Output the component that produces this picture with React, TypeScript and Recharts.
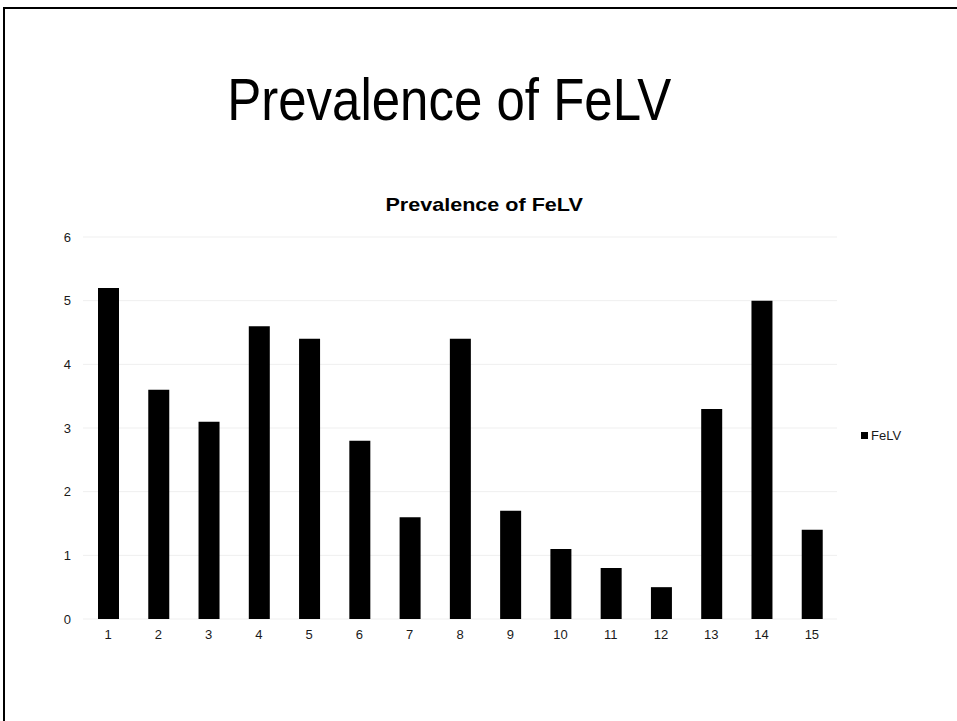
import React from 'react';
import { BarChart, Bar, XAxis, YAxis, CartesianGrid } from 'recharts';

const categories = ['1', '2', '3', '4', '5', '6', '7', '8', '9', '10', '11', '12', '13', '14', '15'];
const felvValues = [5.2, 3.6, 3.1, 4.6, 4.4, 2.8, 1.6, 4.4, 1.7, 1.1, 0.8, 0.5, 3.3, 5.0, 1.4];
const yTicks = [0, 1, 2, 3, 4, 5, 6];
const boundaryTicks = [0, 1, 2, 3, 4, 5, 6, 7, 8, 9, 10, 11, 12, 13, 14, 15];

const chartData = categories.map((name, i) => ({ name, FeLV: felvValues[i] }));

const font = '"Liberation Sans", Arial, sans-serif';

export default function App() {
  return (
    <div style={{ position: 'absolute', left: 0, top: 0, width: 957, height: 721, background: '#fff', overflow: 'hidden', fontFamily: font }}>
      {/* slide frame */}
      <div style={{ position: 'absolute', left: 3, top: 7, width: 954, height: 714, borderTop: '2.5px solid #000', borderLeft: '2px solid #000' }} />

      <div style={{ position: 'absolute', left: 0, width: 899, top: 66, textAlign: 'center', lineHeight: '68px', color: '#000' }}>
        <span style={{ display: 'inline-block', fontSize: 60, transform: 'scaleX(0.85)' }}>Prevalence of FeLV</span>
      </div>

      <div style={{ position: 'absolute', left: 0, width: 968, top: 194, textAlign: 'center', lineHeight: '22px', color: '#000' }}>
        <span style={{ display: 'inline-block', fontSize: 18.6, fontWeight: 'bold', transform: 'scaleX(1.16)' }}>Prevalence of FeLV</span>
      </div>

      <div style={{ position: 'absolute', left: 0, top: 0 }}>
        <BarChart
          width={957}
          height={721}
          data={chartData}
          margin={{ top: 237, right: 120, bottom: 72, left: 43 }}
        >
          <CartesianGrid vertical={false} stroke="#efefef" />
          <XAxis
            xAxisId="edges"
            type="number"
            domain={[0, 15]}
            ticks={boundaryTicks}
            height={0}
            axisLine={{ stroke: '#e4e4e4' }}
            tickLine={{ stroke: '#e4e4e4' }}
            tickSize={5}
            tick={() => <g />}
            allowDataOverflow
          />
          <XAxis
            dataKey="name"
            height={30}
            axisLine={false}
            tickLine={false}
            tick={{ fill: '#1a1a1a', fontSize: 13, fontFamily: font }}
            tickMargin={5}
            interval={0}
          />
          <YAxis
            domain={[0, 6]}
            ticks={yTicks}
            width={40}
            axisLine={false}
            tickLine={false}
            tick={{ fill: '#1a1a1a', fontSize: 13, fontFamily: font }}
            tickMargin={6}
          />
          <Bar dataKey="FeLV" fill="#000" barSize={21} isAnimationActive={false} />
        </BarChart>
      </div>

      {/* legend */}
      <div style={{ position: 'absolute', left: 861, top: 428, display: 'flex', alignItems: 'center', fontSize: 13, color: '#1a1a1a' }}>
        <span style={{ display: 'inline-block', width: 7, height: 7, background: '#000', marginRight: 3 }} />
        <span>FeLV</span>
      </div>
    </div>
  );
}
